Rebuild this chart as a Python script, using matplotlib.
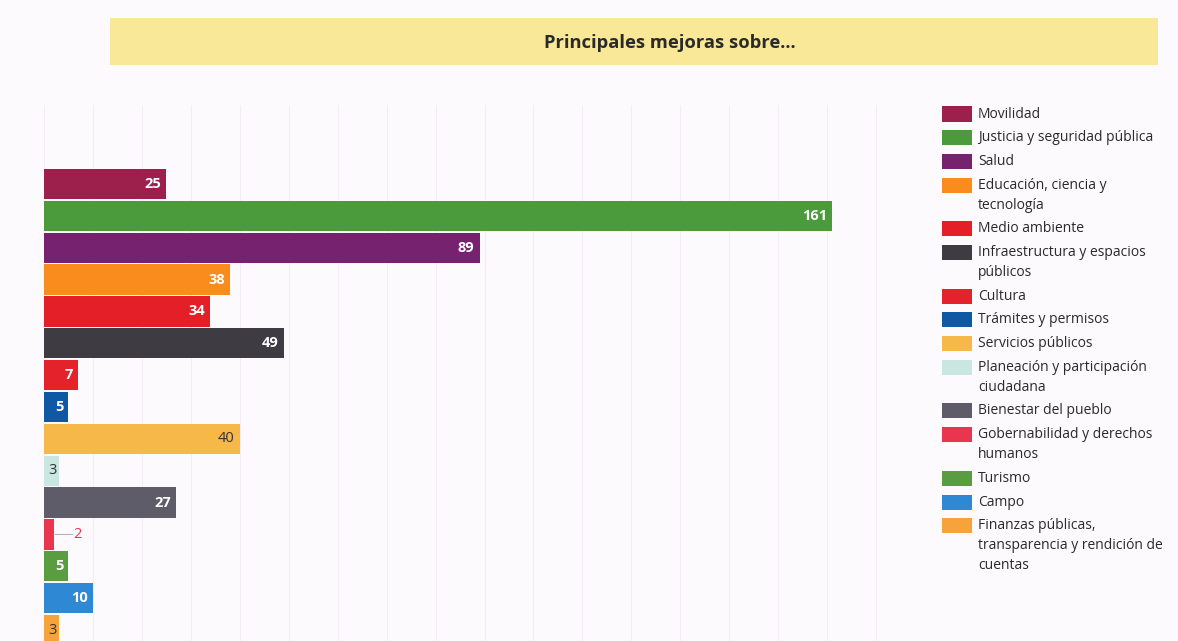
import textwrap

import matplotlib
matplotlib.use('Agg')
from matplotlib import pyplot as plt
from matplotlib.patches import Rectangle
import numpy as np

categories = [
    'Movilidad',
    'Justicia y seguridad pública',
    'Salud',
    'Educación, ciencia y tecnología',
    'Medio ambiente',
    'Infraestructura y espacios públicos',
    'Cultura',
    'Trámites y permisos',
    'Servicios públicos',
    'Planeación y participación ciudadana',
    'Bienestar del pueblo',
    'Gobernabilidad y derechos humanos',
    'Turismo',
    'Campo',
    'Finanzas públicas, transparencia y rendición de cuentas',
]
values = [25, 161, 89, 38, 34, 49, 7, 5, 40, 3, 27, 2, 5, 10, 3]
colors = [
    '#9c1f4c', '#4b9a3c', '#77226f', '#f98c1c', '#e51f28',
    '#3e3b42', '#e3222b', '#0f58a3', '#f6b849', '#c9e6e0',
    '#5e5c68', '#ea3550', '#5a9d40', '#2e88d4', '#f6a33b',
]

title = 'Principales mejoras sobre...'

W, H = 1178, 641
BG = '#fcfafc'
FONT = 'Open Sans'


def fx(px):
    return px / W


def fy(py):
    return 1 - py / H


fig = plt.figure(figsize=(W / 100, H / 100), dpi=100)
fig.patch.set_facecolor(BG)

# title banner
fig.patches.append(Rectangle((fx(110), fy(65)), fx(1158) - fx(110), fy(18) - fy(65),
                             transform=fig.transFigure, facecolor='#f8e897',
                             edgecolor='none', zorder=0))
fig.text(fx(670), fy(43), title, ha='center', va='center', fontsize=13.2,
         fontweight='bold', color='#2a2a2a', family=FONT)

# bar axes
x0, x1 = 44, 925
top_px, bot_px = 105, 641
pitch = 31.86
c0 = 184
ax = fig.add_axes([fx(x0), fy(bot_px), fx(x1) - fx(x0), fy(top_px) - fy(bot_px)])
ax.set_facecolor(BG)
ax.set_xlim(0, 180)
ax.set_ylim((bot_px - c0) / pitch, -(c0 - top_px) / pitch)

ypos = np.arange(len(values))
ax.barh(ypos, values, height=0.95, color=colors, zorder=2)

ax.set_xticks(np.arange(0, 181, 10))
ax.grid(axis='x', color='#f2eef3', lw=0.8, zorder=0)
ax.tick_params(left=False, bottom=False, labelleft=False, labelbottom=False)
for s in ax.spines.values():
    s.set_visible(False)


def lum(hexcol):
    r, g, b = matplotlib.colors.to_rgb(hexcol)
    return 0.299 * r + 0.587 * g + 0.114 * b


for y, v, c in zip(ypos, values, colors):
    if v < 3:
        ax.annotate('', xy=(v + 0.25, y), xytext=(v + 3.9, y),
                    arrowprops=dict(arrowstyle='-', color='#b8b0b8', lw=0.8,
                                    shrinkA=0, shrinkB=0))
        ax.text(v + 4.0, y, str(v), ha='left', va='center', fontsize=10.5,
                color=c, family=FONT)
        continue
    tc = '#333333' if lum(c) > 0.67 else 'white'
    off = -2 if v < 5 else -5
    fw = 'normal' if tc != 'white' else 'bold'
    ax.annotate(str(v), xy=(v, y), xytext=(off, 0), textcoords='offset pixels',
                ha='right', va='center', fontsize=10.5, fontweight=fw,
                color=tc, family=FONT)

# legend
ly = 114
for cat, c in zip(categories, colors):
    lines = textwrap.wrap(cat, 28)
    fig.patches.append(Rectangle((fx(942), fy(ly + 7.5)), fx(30), fy(ly - 7.5) - fy(ly + 7.5),
                                 transform=fig.transFigure, facecolor=c,
                                 edgecolor='none'))
    for k, line in enumerate(lines):
        fig.text(fx(978), fy(ly + 20 * k), line, ha='left', va='center',
                 fontsize=10, color='#2a2a2a', family=FONT)
    ly += 23.7 + 20 * (len(lines) - 1)

fig.savefig('out.png', dpi=100, facecolor=BG)
